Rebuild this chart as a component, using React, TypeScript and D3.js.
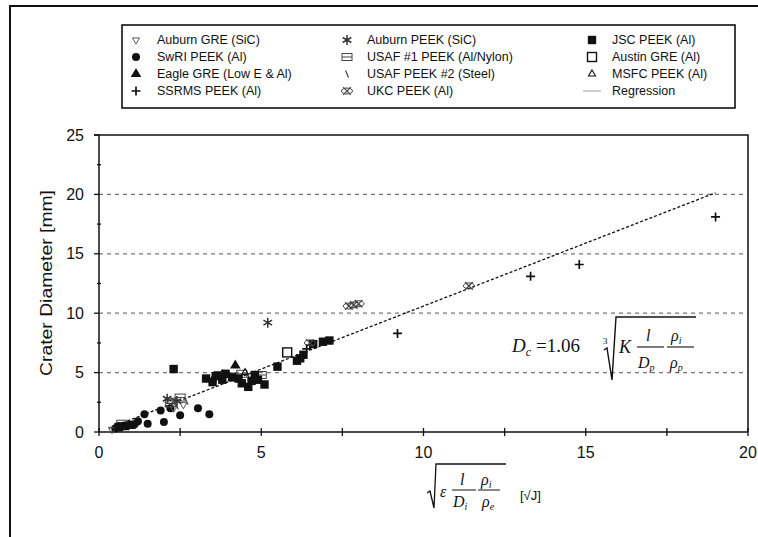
import React from 'react';
import * as d3 from 'd3';

// data (x = sqrt(E l/Di rho_i/rho_e) [sqrt J], y = crater diameter [mm])
const swriPeek = [[0.5, 0.3], [0.7, 0.45], [0.9, 0.55], [1.1, 0.65], [1.5, 0.7], [2.0, 0.85], [1.4, 1.5], [1.9, 1.8], [3.05, 2.0], [3.4, 1.5], [2.5, 1.4], [2.2, 2.0], [0.6, 0.5], [1.2, 0.9]];
const jscPeek = [[2.3, 5.3], [3.3, 4.5], [3.5, 4.2], [3.8, 4.4], [4.1, 4.6], [4.4, 4.1], [4.6, 3.8], [4.9, 4.4], [5.1, 4.0], [4.8, 4.8], [5.5, 5.5], [6.1, 6.0], [6.3, 6.5], [6.6, 7.4], [7.1, 7.7], [0.6, 0.4], [0.8, 0.5], [1.0, 0.6], [3.9, 4.9], [3.6, 4.7], [4.3, 4.5], [4.7, 4.3], [6.2, 6.2], [6.9, 7.6]];
const usaf1Peek = [[2.2, 2.4], [2.5, 2.9], [3.7, 4.8], [4.4, 4.9], [5.0, 4.8], [0.7, 0.7]];
const usaf2Peek = [[2.4, 2.2], [2.7, 2.6], [4.6, 4.7]];
const auburnGre = [[2.3, 2.0], [2.6, 2.3], [0.4, 0.2], [4.1, 4.8]];
const auburnPeek = [[5.2, 9.2], [2.4, 2.6], [2.1, 2.8]];
const eagleGre = [[4.2, 5.6], [3.8, 4.8]];
const ssrmsPeek = [[19.0, 18.1], [14.8, 14.1], [13.3, 13.1], [9.2, 8.3], [6.4, 7.0]];
const ukcPeek = [[11.4, 12.3], [7.7, 10.6], [8.0, 10.8], [7.85, 10.7], [6.5, 7.5], [2.3, 2.6]];
const austinGre = [[5.8, 6.7]];
const msfcPeek = [[4.5, 5.0], [3.5, 4.4]];

const regressionCoef = 1.06;
const regressionRange = [0.3, 19];

const xTicks = [0, 5, 10, 15, 20];
const yTicks = [0, 5, 10, 15, 20, 25];
const gridValues = [5, 10, 15, 20];

const legendRows = [
  [['auburnGre', 'Auburn GRE (SiC)'], ['auburnPeek', 'Auburn PEEK (SiC)'], ['jsc', 'JSC PEEK (Al)']],
  [['swri', 'SwRI PEEK (Al)'], ['usaf1', 'USAF #1 PEEK (Al/Nylon)'], ['austin', 'Austin GRE (Al)']],
  [['eagle', 'Eagle GRE (Low E & Al)'], ['usaf2', 'USAF PEEK #2 (Steel)'], ['msfc', 'MSFC PEEK (Al)']],
  [['ssrms', 'SSRMS PEEK (Al)'], ['ukc', 'UKC PEEK (Al)'], ['regression', 'Regression']],
];

const series = [
  { kind: 'swri', data: swriPeek },
  { kind: 'usaf1', data: usaf1Peek },
  { kind: 'usaf2', data: usaf2Peek },
  { kind: 'auburnGre', data: auburnGre },
  { kind: 'jsc', data: jscPeek },
  { kind: 'eagle', data: eagleGre },
  { kind: 'msfc', data: msfcPeek },
  { kind: 'austin', data: austinGre },
  { kind: 'auburnPeek', data: auburnPeek },
  { kind: 'ukc', data: ukcPeek },
  { kind: 'ssrms', data: ssrmsPeek },
];

const INK = '#111';
const SANS = '"Liberation Sans", Arial, sans-serif';
const SERIF = '"Liberation Serif", "Times New Roman", serif';

const triUp = d3.symbol(d3.symbolTriangle, 48)();
const triOpen = d3.symbol(d3.symbolTriangle2, 36)();
const asterisk = d3.symbol(d3.symbolAsterisk, 70)();
const times = d3.symbol(d3.symbolTimes, 40)();

function Marker({ kind, x, y }: { kind: string; x: number; y: number }) {
  const t = `translate(${x},${y})`;
  switch (kind) {
    case 'swri':
      return <circle cx={x} cy={y} r={4} fill={INK} />;
    case 'jsc':
      return <rect x={x - 4.2} y={y - 4.2} width={8.4} height={8.4} fill={INK} />;
    case 'austin':
      return <rect x={x - 4.5} y={y - 4.5} width={9} height={9} fill="white" stroke={INK} strokeWidth={1.4} />;
    case 'eagle':
      return <path d={triUp} transform={t} fill={INK} />;
    case 'msfc':
      return <path d={triOpen} transform={t} fill="none" stroke={INK} strokeWidth={1.1} />;
    case 'auburnGre':
      return <path d={triOpen} transform={`${t} rotate(180)`} fill="none" stroke="#555" strokeWidth={1} />;
    case 'auburnPeek':
      return <path d={asterisk} transform={t} fill="none" stroke="#333" strokeWidth={1.5} />;
    case 'ukc':
      return (
        <g transform={t}>
          <ellipse rx={5.5} ry={3} fill="none" stroke="#444" strokeWidth={1} />
          <path d={times} fill="none" stroke="#444" strokeWidth={1.2} />
        </g>
      );
    case 'ssrms':
      return <path d="M-4.5,0H4.5M0,-4.5V4.5" transform={t} stroke={INK} strokeWidth={1.7} />;
    case 'usaf1':
      return (
        <g transform={t}>
          <rect x={-5} y={-3.5} width={10} height={7} fill="none" stroke="#444" strokeWidth={1} />
          <path d="M-5,0H5" stroke="#444" strokeWidth={1} />
        </g>
      );
    case 'usaf2':
      return <path d="M-1.5,-3.5L1.5,3.5" transform={t} stroke="#444" strokeWidth={1.2} />;
    case 'regression':
      return <path d={`M${x - 9},${y}H${x + 9}`} stroke="#999" strokeWidth={1} />;
    default:
      return null;
  }
}

export default function App() {
  const width = 758;
  const height = 537;
  const x = d3.scaleLinear().domain([0, 20]).range([99, 748]);
  const y = d3.scaleLinear().domain([0, 25]).range([432, 135]);

  const xMinor = d3.range(0, 20.01, 2.5);
  const yMinor = d3.range(2.5, 25, 5);

  const regLine = d3.line<number>()
    .x(d => x(d))
    .y(d => y(regressionCoef * d));

  const legendCols = [
    { sym: 136, text: 157 },
    { sym: 347, text: 367 },
    { sym: 592, text: 612 },
  ];
  const legendRowY = [40, 57, 74, 91];

  return (
    <div style={{ position: 'fixed', left: 0, top: 0, width, height, background: 'white' }}>
      <svg width={width} height={height} viewBox={`0 0 ${width} ${height}`}>
        <rect width={width} height={height} fill="white" />
        {/* outer frame */}
        <path d={`M10,${height}V6H${width}`} fill="none" stroke={INK} strokeWidth={2} />

        {/* legend */}
        <rect x={122} y={25} width={613} height={83} fill="white" stroke={INK} strokeWidth={1.6} />
        {legendRows.map((row, ri) =>
          row.map(([kind, label], ci) => (
            <g key={`${ri}-${ci}`}>
              <Marker kind={kind} x={legendCols[ci].sym} y={legendRowY[ri]} />
              <text
                x={legendCols[ci].text}
                y={legendRowY[ri]}
                dy="0.35em"
                fontFamily={SANS}
                fontSize={12.5}
                fill={INK}
              >
                {label}
              </text>
            </g>
          ))
        )}

        {/* grid */}
        {gridValues.map(v => (
          <line key={v} x1={x(0)} x2={x(20)} y1={y(v)} y2={y(v)} stroke="#777" strokeWidth={1.3} strokeDasharray="4,4" />
        ))}
        {/* plot box: top and right borders */}
        <path d={`M${x(0) - 5},${y(25)}H${x(20)}V${y(0)}`} fill="none" stroke={INK} strokeWidth={1.5} />

        {/* axes */}
        <line x1={x(0)} x2={x(20)} y1={y(0)} y2={y(0)} stroke={INK} strokeWidth={1.5} />
        <line x1={x(0)} x2={x(0)} y1={y(0)} y2={y(25)} stroke={INK} strokeWidth={1.5} />
        {xMinor.map(v => (
          <line key={v} x1={x(v)} x2={x(v)} y1={y(0) - 4} y2={y(0) + 4} stroke={INK} strokeWidth={1.3} />
        ))}
        {yTicks.map(v => (
          <line key={v} x1={x(0) - 5} x2={x(0)} y1={y(v)} y2={y(v)} stroke={INK} strokeWidth={1.3} />
        ))}
        {yMinor.map(v => (
          <line key={v} x1={x(0) - 2} x2={x(0) + 2} y1={y(v)} y2={y(v)} stroke={INK} strokeWidth={1.3} />
        ))}
        {xTicks.map(v => (
          <text key={v} x={x(v)} y={y(0) + 26} textAnchor="middle" fontFamily={SANS} fontSize={16} fill={INK}>
            {v}
          </text>
        ))}
        {yTicks.map(v => (
          <text key={v} x={84} y={y(v)} dy="0.35em" textAnchor="end" fontFamily={SANS} fontSize={16} fill={INK}>
            {v}
          </text>
        ))}
        <text
          transform={`translate(46,283) rotate(-90)`}
          textAnchor="middle"
          dy="0.35em"
          fontFamily={SANS}
          fontSize={16}
          fill={INK}
          textLength={186}
          lengthAdjust="spacingAndGlyphs"
        >
          Crater Diameter [mm]
        </text>

        {/* regression */}
        <path d={regLine(regressionRange) || ''} fill="none" stroke={INK} strokeWidth={1.3} strokeDasharray="3,2" />

        {/* points */}
        {series.map(s =>
          s.data.map((d, i) => <Marker key={`${s.kind}-${i}`} kind={s.kind} x={x(d[0])} y={y(d[1])} />)
        )}

        {/* x-axis label: sqrt(eps l/Di rho_i/rho_e) [sqrt J] */}
        <g fontFamily={SERIF} fontStyle="italic" fill={INK}>
          <path d="M427,493L430,491L434,508L436,464H506" fill="none" stroke={INK} strokeWidth={1.3} />
          <text x={440} y={497} fontSize={16}>ε</text>
          <text x={460} y={485} fontSize={16}>l</text>
          <line x1={452} x2={476} y1={490} y2={490} stroke={INK} strokeWidth={1} />
          <text x={453} y={507} fontSize={16}>D<tspan fontSize={10} dy={3}>i</tspan></text>
          <text x={481} y={485} fontSize={16}>ρ<tspan fontSize={10} dy={3}>i</tspan></text>
          <line x1={478} x2={500} y1={490} y2={490} stroke={INK} strokeWidth={1} />
          <text x={482} y={507} fontSize={16}>ρ<tspan fontSize={10} dy={3}>e</tspan></text>
        </g>
        <text x={520} y={500} fontFamily={SANS} fontSize={13} fill={INK}>[√J]</text>

        {/* regression equation */}
        <g fontFamily={SERIF} fill={INK}>
          <text x={512} y={352} fontSize={19} fontStyle="italic">D<tspan fontSize={12} dy={4}>c</tspan></text>
          <text x={536} y={352} fontSize={19}>=1.06</text>
          <text x={603} y={344} fontSize={9}>3</text>
          <path d="M604,350L607,348L612,380L616,317H696" fill="none" stroke={INK} strokeWidth={1.4} />
          <text x={619} y={353} fontSize={18} fontStyle="italic">K</text>
          <text x={646} y={341} fontSize={16} fontStyle="italic">l</text>
          <line x1={637} x2={664} y1={347} y2={347} stroke={INK} strokeWidth={1.1} />
          <text x={638} y={368} fontSize={16} fontStyle="italic">D<tspan fontSize={10} dy={3}>p</tspan></text>
          <text x={671} y={341} fontSize={16} fontStyle="italic">ρ<tspan fontSize={10} dy={3}>i</tspan></text>
          <line x1={667} x2={694} y1={347} y2={347} stroke={INK} strokeWidth={1.1} />
          <text x={670} y={368} fontSize={16} fontStyle="italic">ρ<tspan fontSize={10} dy={3}>p</tspan></text>
        </g>
      </svg>
    </div>
  );
}
